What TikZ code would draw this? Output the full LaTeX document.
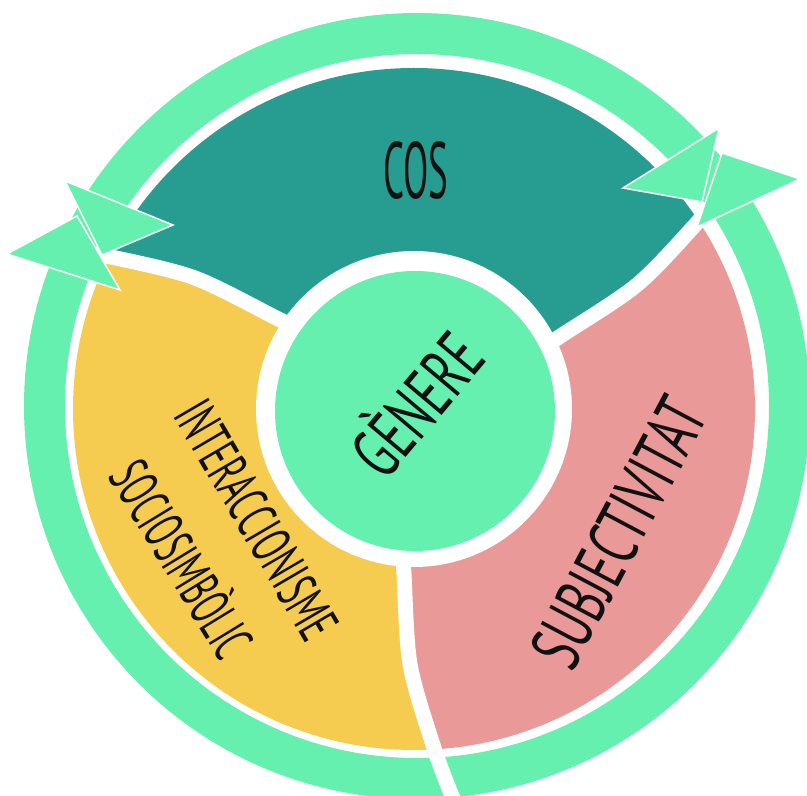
\documentclass[tikz,border=0pt]{standalone}
\usepackage{fontspec}
\usepackage{graphicx}
\setmainfont{PT Sans}
\definecolor{mint}{RGB}{102,240,176}
\definecolor{tealc}{RGB}{39,156,145}
\definecolor{yelc}{RGB}{246,204,80}
\definecolor{pinkc}{RGB}{232,153,152}
\definecolor{ink}{RGB}{17,17,17}
\newcommand{\fitbox}[3]{\resizebox{#1pt}{#2pt}{\vphantom{E}\smash{#3}}}
\begin{document}
\begin{tikzpicture}[x=1pt,y=1pt,
  lbl/.style={inner sep=0pt, text=ink, font=\mdseries},
  tri/.style={fill=mint, draw=white, line width=1.5pt, line join=miter},
  spokeline/.style={draw=white, line width=15pt},
  hub/.style={circle, fill=mint, inner sep=0pt, minimum size=280pt},
  hubgap/.style={circle, fill=white, inner sep=0pt, minimum size=316pt}]
\useasboundingbox (0,0) rectangle (807,796);
% outer ring
\fill[mint, even odd rule] (417,390) circle (393) (417,390) circle (352);
% segments
\begin{scope}
\clip (414,387) circle (341);
\begin{scope}[shift={(414,387)}]
\fill[tealc] (0,0) -- plot[smooth] coordinates {(24.77:131.55) (26.53:165.3) (29.1:255.03) (33.24:336.5) (35.61:388.9) (36.74:408.8)}
  -- (60:500) -- (90:500) -- (120:500)
  -- plot[smooth] coordinates {(156.74:408.8) (155.61:388.9) (153.24:336.5) (149.1:255.03) (146.53:165.3) (144.77:131.55)} -- cycle;
\fill[yelc] (0,0) -- plot[smooth] coordinates {(144.77:131.55) (146.53:165.3) (149.1:255.03) (153.24:336.5) (155.61:388.9) (156.74:408.8)}
  -- (180:500) -- (210:500) -- (240:500)
  -- plot[smooth] coordinates {(276.74:408.8) (275.61:388.9) (273.24:336.5) (269.1:255.03) (266.53:165.3) (264.77:131.55)} -- cycle;
\fill[pinkc] (0,0) -- plot[smooth] coordinates {(264.77:131.55) (266.53:165.3) (269.1:255.03) (273.24:336.5) (275.61:388.9) (276.74:408.8)}
  -- (300:500) -- (330:500) -- (360:500)
  -- plot[smooth] coordinates {(36.74:408.8) (35.61:388.9) (33.24:336.5) (29.1:255.03) (26.53:165.3) (24.77:131.55)} -- cycle;
\end{scope}
\end{scope}
% white separating spokes
\begin{scope}[shift={(414,387)}]
\draw[spokeline] plot[smooth] coordinates {(264.77:131.55) (266.53:165.3) (269.1:255.03) (273.24:336.5) (275.61:388.9) (276.74:408.8)};
\draw[spokeline] plot[smooth] coordinates {(24.77:131.55) (26.53:165.3) (29.1:255.03) (33.24:336.5) (35.61:388.9) (36.74:408.8)};
\draw[spokeline] plot[smooth] coordinates {(144.77:131.55) (146.53:165.3) (149.1:255.03) (153.24:336.5) (155.61:388.9) (156.74:408.8)};
\end{scope}
% hub
\node[hubgap] (gap) at (414,387) {};
\node[hub] (hub) at (415,385) {};
% arrow heads
\draw[tri] (623,608) -- (719,668) -- (702,594) -- cycle;
\draw[tri] (722,643) -- (800,617) -- (697,569) -- cycle;
\draw[tri] (77,580) -- (7,542) -- (120,506) -- cycle;
\draw[tri] (65,615) -- (173,571) -- (102,541) -- cycle;
% labels
\node[lbl] (cos) at (416,625) {\fitbox{65}{56}{COS}};
\node[lbl, rotate=50] (genere) at (418,391) {\fitbox{160}{50}{GÈNERE}};
\node[lbl, rotate=62] (subj) at (619,263.5) {\fitbox{292}{50}{SUBJECTIVITAT}};
\node[lbl, rotate=-59.7] (inter) at (257,276) {\fitbox{265}{40}{INTERACCIONISME}};
\node[lbl, rotate=-58.6] (socio) at (181.5,236.5) {\fitbox{218}{40}{SOCIOSIMBÒLIC}};
\end{tikzpicture}
\end{document}
